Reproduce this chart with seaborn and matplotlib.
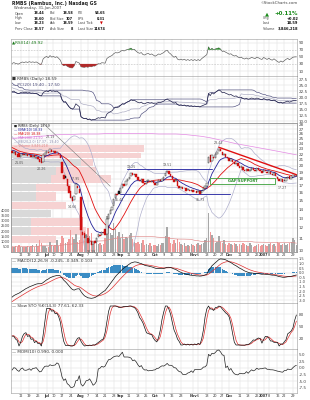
import numpy as np
import pandas as pd
import matplotlib
matplotlib.use("Agg")
import matplotlib.pyplot as plt
import seaborn as sns

# ---------------- data ----------------
title_text = "RMBS (Rambus, Inc.) Nasdaq GS"
date_text = "Wednesday, 31-Jan-2007"
hdr_col1 = ["Open", "High", "Low", "Prev Close"]
hdr_val1 = ["18.44", "18.60", "18.23", "18.57"]
hdr_col2 = ["Bid", "Bid Size", "Ask", "Ask Size"]
hdr_val2 = ["18.58", "107", "18.59", "8"]
hdr_col3 = ["P/E", "EPS", "Last Tick", "Last Size"]
hdr_val3 = ["54.65", "0.31", "", "11674"]
hdr_right_lbl = ["", "Chg", "Last", "Volume"]
hdr_right_val = ["+0.11%", "+0.02", "18.59", "3,846,218"]

holidays = ["2006-07-04", "2006-09-04", "2006-11-23", "2006-12-25",
            "2007-01-01", "2007-01-02", "2007-01-15"]

# closes before the visible window (only feed the indicators)
lead_close = [38.5, 39.2, 40.1, 39.6, 40.8, 41.5, 40.9, 41.8, 42.3, 41.6, 40.7, 39.8,
              36.2, 31.5, 28.4, 27.1, 26.3,
              25.6, 25.9, 25.2, 24.6, 24.9, 24.1, 23.5, 23.9, 23.2, 22.6,
              23.0, 22.4, 22.0, 22.5, 22.8, 22.3, 22.1, 22.6, 22.9, 22.4]

open_jun = [22.6, 22.3, 22.4, 22.0, 22.2, 21.6, 21.8, 22.1, 21.9, 22.0,
            21.8, 21.9, 21.5, 21.8, 21.4, 21.6, 21.1, 21.3, 20.7, 21.9]
close_jun = [22.2, 22.5, 21.9, 21.6, 21.5, 21.9, 22.1, 21.8, 22.0, 21.7,
             21.9, 21.6, 21.7, 21.5, 21.6, 21.2, 20.6, 20.5, 21.8, 22.3]
open_jul = [22.3, 22.5, 22.4, 22.7, 22.5, 22.6, 22.4, 22.3, 21.9, 20.6,
            18.6, 18.4, 18.0, 16.9, 16.2, 15.5, 15.1, 15.8, 17.0, 16.5]
close_jul = [22.6, 22.2, 22.9, 22.4, 22.6, 22.3, 22.5, 22.0, 21.3, 18.9,
             17.9, 18.1, 17.0, 16.0, 15.3, 15.0, 15.6, 17.2, 16.6, 16.0]
open_aug = [15.5, 11.6, 11.5, 11.1, 11.0, 10.7, 10.8, 10.5, 10.8, 10.7, 11.1, 11.3,
            11.3, 11.6, 11.9, 11.4, 12.9, 13.4, 13.9, 14.4, 15.3, 15.9, 16.3]
close_aug = [11.8, 11.3, 11.0, 11.2, 10.6, 10.9, 10.4, 10.7, 10.6, 11.0, 11.4, 11.2,
             11.6, 11.5, 11.3, 12.9, 13.5, 13.9, 14.3, 15.2, 15.8, 15.7, 15.9]
open_sep = [16.0, 16.7, 17.2, 17.1, 17.6, 18.0, 18.4, 18.8, 18.6, 18.7,
            18.2, 17.8, 17.5, 17.9, 17.4, 17.2, 17.6, 17.7, 17.5, 17.7]
close_sep = [16.6, 17.2, 17.0, 17.6, 18.0, 18.3, 18.9, 18.5, 18.7, 18.2,
             17.8, 17.6, 17.9, 17.3, 17.2, 17.6, 17.8, 17.5, 17.7, 17.4]
open_oct = [17.3, 17.1, 17.5, 17.8, 17.7, 18.0, 18.4, 19.0, 19.1, 18.7, 18.4,
            17.8, 17.6, 17.7, 16.9, 16.6, 16.8, 16.6, 16.6, 16.4, 16.4, 16.3]
close_oct = [17.1, 17.4, 17.8, 17.7, 18.0, 18.3, 18.9, 19.2, 18.7, 18.4, 17.9,
             17.5, 17.8, 16.9, 16.6, 16.8, 16.5, 16.7, 16.3, 16.5, 16.2, 16.4]
open_nov = [16.4, 16.2, 16.2, 16.1, 16.2, 16.0, 16.3, 16.6, 17.0, 20.4, 21.9,
            20.8, 21.6, 21.4, 22.1, 22.6, 22.9, 22.5, 21.8, 22.0, 21.6]
close_nov = [16.1, 16.3, 16.0, 16.2, 15.9, 16.3, 16.6, 16.9, 17.3, 21.5, 20.6,
             21.8, 21.3, 22.0, 22.5, 23.0, 22.6, 21.8, 22.0, 21.6, 21.3]
open_dec = [21.3, 20.9, 21.0, 20.6, 20.3, 20.4, 20.0, 19.7, 19.8, 19.4,
            19.2, 19.5, 19.1, 19.3, 19.6, 19.4, 19.2, 19.6, 19.3, 19.1]
close_dec = [20.9, 21.1, 20.6, 20.3, 20.5, 20.0, 19.7, 19.9, 19.4, 19.2,
             19.5, 19.1, 19.3, 19.6, 19.4, 19.2, 19.6, 19.4, 19.1, 18.9]
open_jan = [19.0, 19.3, 19.0, 18.9, 19.0, 18.7, 18.5, 18.8, 18.3, 17.9,
            17.6, 17.9, 17.6, 17.7, 18.1, 18.4, 17.9, 18.2, 18.6, 18.44]
close_jan = [19.4, 19.1, 18.8, 19.1, 18.7, 18.5, 18.8, 18.4, 17.9, 17.6,
             17.9, 17.5, 17.8, 18.1, 18.3, 17.9, 18.2, 18.5, 18.57, 18.59]

vol_jun = [520, 450, 600, 480, 700, 430, 500, 450, 520, 610,
           480, 550, 650, 500, 720, 560, 1150, 900, 600, 560]
vol_jul = [350, 520, 1000, 640, 560, 700, 1100, 600, 900, 1500,
           1300, 900, 1000, 1200, 2100, 1400, 1200, 1700, 1000, 1100]
vol_aug = [3600, 3300, 2000, 1700, 2300, 1500, 1800, 1000, 900, 1100, 800, 900,
           700, 800, 1300, 3400, 2600, 1800, 1600, 2800, 2200, 1500, 1900]
vol_sep = [1300, 1700, 1200, 1400, 1300, 1600, 1800, 1200, 1000, 900,
           1000, 800, 900, 1100, 700, 800, 700, 900, 600, 700]
vol_oct = [700, 600, 800, 700, 900, 900, 1500, 2400, 1400, 900, 800,
           1100, 900, 1200, 1000, 800, 700, 900, 600, 700, 600, 800]
vol_nov = [700, 600, 800, 900, 700, 800, 900, 1100, 1300, 3700, 1900,
           1600, 1300, 900, 1000, 1500, 1000, 900, 1100, 800, 700]
vol_dec = [900, 800, 700, 900, 800, 600, 800, 700, 900, 800,
           700, 600, 900, 700, 500, 600, 700, 800, 600, 700]
vol_jan = [800, 700, 600, 800, 900, 700, 800, 600, 1000, 900,
           700, 800, 900, 700, 800, 900, 1000, 1300, 1100, 700]

# 200-day moving average, read every 5th session
ma200_vals = [25.1, 25.2, 25.3, 25.5, 25.6, 25.8, 25.9, 25.9, 26.0, 26.0, 26.0, 26.1,
              26.1, 26.1, 26.1, 26.1, 26.1, 26.0, 26.0, 26.0, 25.9, 25.7, 25.5, 25.2,
              24.8, 24.4, 24.0, 23.7, 23.4, 23.1, 22.8, 22.5, 22.2, 21.9]

# volume by price
vbp_lo = [22.4, 21.3, 20.0, 18.6, 17.4, 16.3, 15.0, 14.0, 13.1, 12.2, 11.3, 10.6]
vbp_hi = [24.0, 22.4, 21.3, 20.0, 18.6, 17.4, 16.3, 15.0, 14.0, 13.1, 12.2, 11.3]
vbp_up = [0, 30, 70, 45, 40, 25, 25, 0, 40, 20, 20, 0]
vbp_dn = [133, 100, 12, 40, 60, 35, 20, 55, 0, 50, 55, 45]

tick_dates = ["2006-06-12", "2006-06-19", "2006-06-26", "2006-07-03", "2006-07-10",
              "2006-07-17", "2006-07-24", "2006-08-01", "2006-08-07", "2006-08-14",
              "2006-08-21", "2006-08-28", "2006-09-01", "2006-09-11", "2006-09-18",
              "2006-09-25", "2006-10-02", "2006-10-09", "2006-10-16", "2006-10-23",
              "2006-11-01", "2006-11-06", "2006-11-13", "2006-11-20", "2006-11-27",
              "2006-12-01", "2006-12-11", "2006-12-18", "2006-12-26", "2007-01-03",
              "2007-01-08", "2007-01-16", "2007-01-22", "2007-01-29"]
tick_labels = ["12", "19", "26", "Jul", "10", "17", "24", "Aug", "7", "14", "21", "28",
               "Sep", "11", "18", "25", "Oct", "9", "16", "23", "Nov", "6", "13", "20",
               "27", "Dec", "11", "18", "26", "2007", "8", "16", "22", "29"]

price_ticks = [10, 11, 12, 13, 14, 15, 16, 17, 18, 19, 20, 21, 22, 23, 24, 25, 26, 27, 28]
vol_ticks = [500, 1000, 1500, 2000, 2500, 3000, 3500, 4000]

# annotations: (session, price, text, above?)
notes = [(22, 24.2, "23.19", True), (4, 21.5, "21.05", False), (17, 20.5, "20.26", False),
         (37, 17.2, "17.95", True), (35, 15.0, "14.66", False), (46, 10.4, "10.19", False),
         (69, 18.9, "19.25", True), (62, 15.9, "15.43", False), (90, 19.2, "19.51", True),
         (109, 15.9, "15.73", False), (120, 23.0, "23.42", True), (157, 17.5, "17.27", False)]

# ---------------- computations ----------------
sns.set_theme(style="white")
plt.rcParams['font.family'] = ['DejaVu Sans']

dates = pd.bdate_range("2006-06-05", "2007-01-31")
dates = dates[~dates.isin(pd.to_datetime(holidays))]
opens = np.array(open_jun + open_jul + open_aug + open_sep + open_oct + open_nov + open_dec + open_jan)
closes = np.array(close_jun + close_jul + close_aug + close_sep + close_oct + close_nov + close_dec + close_jan)
vols = np.array(vol_jun + vol_jul + vol_aug + vol_sep + vol_oct + vol_nov + vol_dec + vol_jan)
n = len(closes)
idx = np.arange(n)
tick_pos = [dates.get_loc(pd.Timestamp(d)) for d in tick_dates]

L = len(lead_close)
full = pd.Series(lead_close + list(closes))
hi_full = pd.Series(lead_close + list(np.maximum(opens, closes)))
lo_full = pd.Series(lead_close + list(np.minimum(opens, closes)))
ema = lambda s, span: s.ewm(span=span, adjust=False).mean()
ema10 = ema(full, 10).values[L:]
ma20 = full.rolling(20).mean().values[L:]
sd20 = full.rolling(20).std(ddof=0).values[L:]
bb_up, bb_lo = ma20 + 2 * sd20, ma20 - 2 * sd20
macd_s = ema(full, 12) - ema(full, 26)
sig_s = ema(macd_s, 9)
macd, sig = macd_s.values[L:], sig_s.values[L:]
hist = macd - sig
d = full.diff()
up = d.clip(lower=0).ewm(alpha=1 / 14, adjust=False).mean()
dn = (-d.clip(upper=0)).ewm(alpha=1 / 14, adjust=False).mean()
rsi = (100 - 100 / (1 + up / dn)).values[L:]
ll, hh = lo_full.rolling(14).min(), hi_full.rolling(14).max()
fastk = 100 * (full - ll) / (hh - ll)
slowk_s = fastk.rolling(3).mean()
slowk, slowd = slowk_s.values[L:], slowk_s.rolling(3).mean().values[L:]
mom = (full - full.shift(10)).values[L:]
ch_hi = hi_full.rolling(20).max().values[L:]
ch_lo = lo_full.rolling(20).min().values[L:]
ch_mid = (ch_hi + ch_lo) / 2
vol_ma = pd.Series(vols).rolling(50, min_periods=1).mean().values
ma200_x = np.arange(0, n, 5)[:len(ma200_vals)]

# ---------------- layout ----------------
W, H = 310, 400
fig = plt.figure(figsize=(W / 100, H / 100), dpi=100)
fig.patch.set_facecolor("white")
X0, X1 = 11, 297
XL = (-0.64, 165.36)
FS = 3.0
GRID = "#dedede"
EDGE = "#9a9a9a"


def px(x, y):
    return x / W, 1 - y / H


def panel(top, bot, zorder=1, transparent=False):
    ax = fig.add_axes([X0 / W, 1 - bot / H, (X1 - X0) / W, (bot - top) / H], zorder=zorder)
    ax.set_xlim(*XL)
    if transparent:
        ax.patch.set_alpha(0)
    for s in ax.spines.values():
        s.set_color(EDGE)
        s.set_linewidth(0.4)
    ax.tick_params(length=0, labelsize=FS, colors="#444444", pad=1)
    ax.set_xticks(tick_pos)
    ax.set_xticklabels([])
    ax.set_xlabel("")
    ax.set_ylabel("")
    return ax


def right_ticks(ax, ticks, fmt):
    ax.yaxis.tick_right()
    ax.set_yticks(ticks)
    ax.set_yticklabels([fmt.format(t) for t in ticks])


def vgrid(ax):
    for t in tick_pos:
        ax.axvline(t, color=GRID, lw=0.35, zorder=0)


def hgrid(ax, ticks):
    for t in ticks:
        ax.axhline(t, color=GRID, lw=0.35, zorder=0)


def line(ax, x, y, color, lw=0.5, z=3):
    sns.lineplot(x=x, y=y, ax=ax, color=color, linewidth=lw, legend=False,
                 errorbar=None, sort=False, zorder=z)
    ax.set_xlabel("")
    ax.set_ylabel("")


def date_labels(ax):
    ax.set_xticklabels(tick_labels)
    for lab, txt in zip(ax.get_xticklabels(), tick_labels):
        lab.set_fontsize(2.5)
        lab.set_color("#333333")
        if not txt.isdigit() or txt == "2007":
            lab.set_fontweight("bold")


# ---------------- header ----------------
HF = 2.4
fig.text(*px(12, 3.5), title_text, fontsize=3.3, fontweight="bold", color="#222222", va="center")
fig.text(*px(298, 3.5), "\u00a9StockCharts.com", fontsize=2.8, color="#444444", va="center", ha="right")
fig.text(*px(14, 8.5), date_text, fontsize=2.7, color="#444444", va="center")
for r in range(4):
    y = 13.5 + 5 * r
    fig.text(*px(15, y), hdr_col1[r], fontsize=HF, color="#444444", va="center")
    fig.text(*px(44, y), hdr_val1[r], fontsize=HF, color="#111111", va="center", ha="right", fontweight="bold")
    fig.text(*px(50, y), hdr_col2[r], fontsize=HF, color="#444444", va="center")
    fig.text(*px(73, y), hdr_val2[r], fontsize=HF, color="#111111", va="center", ha="right", fontweight="bold")
    fig.text(*px(78, y), hdr_col3[r], fontsize=HF, color="#444444", va="center")
    fig.text(*px(105, y), hdr_val3[r], fontsize=HF, color="#111111", va="center", ha="right", fontweight="bold")
    if r > 0:
        fig.text(*px(263, y), hdr_right_lbl[r], fontsize=HF, color="#444444", va="center")
        fig.text(*px(298, y), hdr_right_val[r], fontsize=HF + 0.2, color="#111111", va="center", ha="right", fontweight="bold")
fig.text(*px(103, 23.5), "\u25bc", fontsize=2.6, color="#cc0000", va="center", ha="right")
fig.text(*px(265, 13.5), "\u25b2", fontsize=3.8, color="#1a8a1a", va="center")
fig.text(*px(298, 13.5), hdr_right_val[0], fontsize=4.0, color="#1a8a1a", va="center", ha="right", fontweight="bold")

# ---------------- RSI ----------------
ax_rsi = panel(39, 76)
ax_rsi.set_ylim(-4, 100)
vgrid(ax_rsi)
hgrid(ax_rsi, [90, 10])
ax_rsi.axhline(70, color="#bbbbbb", lw=0.4, ls=(0, (3, 2)))
ax_rsi.axhline(30, color="#bbbbbb", lw=0.4, ls=(0, (3, 2)))
ax_rsi.axhline(50, color="#cccccc", lw=0.35)
line(ax_rsi, idx, rsi, "#555555", 0.45)
ax_rsi.fill_between(idx, rsi, 70, where=rsi > 70, color="#2a8a2a", interpolate=True, lw=0, zorder=4)
ax_rsi.fill_between(idx, rsi, 30, where=rsi < 30, color="#b02a2a", interpolate=True, lw=0, zorder=4)
right_ticks(ax_rsi, [90, 70, 50, 30, 10], "{:.0f}")
ax_rsi.set_xlim(*XL)
ax_rsi.text(0.005, 0.97, "\u25b2RSI(14) %.2f" % rsi[-1], transform=ax_rsi.transAxes,
            fontsize=FS, color="#1a7a1a", va="top")

# ---------------- price channel panel ----------------
ax_pc = panel(76, 123)
ax_pc.set_ylim(9.2, 28.8)
vgrid(ax_pc)
pc_ticks = [10.0, 12.5, 15.0, 17.5, 20.0, 22.5, 25.0, 27.5]
hgrid(ax_pc, pc_ticks)
line(ax_pc, idx, ch_hi, "#4a4a7a", 0.45)
line(ax_pc, idx, ch_lo, "#4a4a7a", 0.45)
line(ax_pc, idx, ch_mid, "#a8a8c0", 0.45)
line(ax_pc, idx, closes, "#20204a", 0.5)
right_ticks(ax_pc, pc_ticks, "{:.1f}")
ax_pc.set_xlim(*XL)
ax_pc.text(0.005, 0.97, "\u25a0 RMBS (Daily) 18.59", transform=ax_pc.transAxes, fontsize=FS, color="#333333", va="top")
ax_pc.text(0.005, 0.86, "\u2014 PC(20) %.2f - %.2f" % (ch_hi[-1], ch_lo[-1]), transform=ax_pc.transAxes,
           fontsize=FS, color="#4a4a7a", va="top")

# ---------------- price panel ----------------
PT, PB = 123, 252
ax_bg = panel(PT, PB, zorder=1)
ax_bg.set_yscale("log")
ax_bg.set_ylim(9.84, 28.46)
vgrid(ax_bg)
hgrid(ax_bg, price_ticks)
ax_bg.minorticks_off()
ax_bg.set_yticks([])
ax_bg.set_yticks([], minor=True)
unit = 1 / 1.723
for lo, hi, u, dwn in zip(vbp_lo, vbp_hi, vbp_up, vbp_dn):
    hgt = (hi - lo) * 0.9
    ax_bg.barh(lo, u * unit, height=hgt, left=XL[0], align="edge", color="#d9d9d9", lw=0, zorder=1)
    ax_bg.barh(lo, dwn * unit, height=hgt, left=XL[0] + u * unit, align="edge", color="#f6d2d2", lw=0, zorder=1)
ax_bg.set_xlim(*XL)

ax_vol = panel(PT, PB, zorder=2, transparent=True)
prev = np.concatenate([[lead_close[-1]], closes[:-1]])
down = closes < prev
ax_vol.bar(idx, vols, width=0.8, color=np.where(down, "#f09a9a", "#a8a8a8"), lw=0, zorder=2)
line(ax_vol, idx, vol_ma, "#e08a8a", 0.45)
ax_vol.set_ylim(0, 12290)
ax_vol.yaxis.tick_left()
ax_vol.set_yticks(vol_ticks)
ax_vol.set_yticklabels([str(v) for v in vol_ticks])
ax_vol.tick_params(axis="y", labelsize=2.6, pad=0.5)
ax_vol.set_xlim(*XL)

ax_p = panel(PT, PB, zorder=3, transparent=True)
ax_p.set_yscale("log")
body_lo = np.minimum(opens, closes)
body_h = np.maximum(np.abs(closes - opens), 0.04)
col = np.where(down, "#d01010", "#111111")
filled = closes < opens
for i in idx:
    ax_p.bar(i, body_h[i], bottom=body_lo[i], width=0.85,
             color=col[i] if filled[i] else "white", edgecolor=col[i], lw=0.3, zorder=5)
line(ax_p, idx, bb_up, "#a9a9c9", 0.45, 3)
line(ax_p, idx, bb_lo, "#a9a9c9", 0.45, 3)
line(ax_p, ma200_x, ma200_vals, "#e48ae4", 0.5, 3)
line(ax_p, idx, ma20, "#e01010", 0.6, 4)
line(ax_p, idx, ema10, "#22229a", 0.6, 4)
# annotation lines
ax_p.plot([18, 57], [28.4, 16.9], color="#777777", lw=0.4, zorder=4)
ax_p.plot([66.5, 116], [19.5, 19.5], color="#3a3aaa", lw=0.7, zorder=4)
ax_p.plot([62.5, 126.5], [15.9, 15.9], color="#3a3aaa", lw=0.7, zorder=4)
ax_p.plot([120, 165], [23.3, 18.6], color="#e01010", lw=1.0, zorder=6)
ax_p.add_patch(plt.Rectangle((115, 17.2), 37.5, 0.9, fill=False, edgecolor="#3aa03a", lw=0.6, zorder=6))
ax_p.text(133.7, 17.65, "GAP SUPPORT", color="#2a902a", fontsize=2.7, ha="center", va="center",
          fontweight="bold", zorder=7)
for i, p, t, above in notes:
    ax_p.text(i, p * (1.03 if above else 0.965), t, fontsize=2.3, color="#555555",
              ha="center", va="bottom" if above else "top", zorder=7)
ax_p.set_ylim(9.84, 28.46)
ax_p.set_xlim(*XL)
ax_p.minorticks_off()
right_ticks(ax_p, price_ticks, "{:.0f}")
ax_p.set_yticks([], minor=True)
date_labels(ax_p)
legend_rows = [("\u25a0 RMBS (Daily) 18.59", "#222222"),
               ("\u2014 EMA(10) %.2f" % ema10[-1], "#22229a"),
               ("\u2014 MA(20) %.2f" % ma20[-1], "#e01010"),
               ("\u2014 MA(200) %.2f" % ma200_vals[-1], "#d070d0"),
               ("\u2014 BB(20,2.0) %.2f - %.2f" % (bb_lo[-1], bb_up[-1]), "#8888aa"),
               ("\u2014 Volume 3,846,218", "#e08a8a")]
for k, (t, c) in enumerate(legend_rows):
    ax_p.text(0.01, 0.99 - k * 0.031, t, transform=ax_p.transAxes, fontsize=2.3, color=c, va="top", zorder=8)

# ---------------- MACD ----------------
ax_m = panel(258, 303)
ax_m.set_ylim(-3.3, 1.6)
m_ticks = [1.5, 1.0, 0.5, 0.0, -0.5, -1.0, -1.5, -2.0, -2.5, -3.0]
vgrid(ax_m)
hgrid(ax_m, m_ticks)
ax_m.bar(idx, hist, width=0.9, color="#3a8cc4", lw=0, zorder=2)
line(ax_m, idx, sig, "#e03030", 0.5)
line(ax_m, idx, macd, "#111111", 0.5)
right_ticks(ax_m, m_ticks, "{:.1f}")
ax_m.tick_params(axis="y", labelsize=2.6)
ax_m.set_xlim(*XL)
ax_m.text(0.005, 0.97, "\u2014 MACD(12,26,9) %.3f, %.3f, %.3f" % (macd[-1], sig[-1], hist[-1]),
          transform=ax_m.transAxes, fontsize=FS, color="#333333", va="top")

# ---------------- Slow stochastic ----------------
ax_s = panel(303, 349)
ax_s.set_ylim(-7.5, 107.5)
vgrid(ax_s)
hgrid(ax_s, [80, 50, 20])
line(ax_s, idx, slowd, "#e03030", 0.5)
line(ax_s, idx, slowk, "#111111", 0.5)
right_ticks(ax_s, [80, 50, 20], "{:.0f}")
ax_s.set_xlim(*XL)
ax_s.text(0.005, 0.97, "\u2014 Slow STO %%K(14,3) %.2f, %.2f" % (slowk[-1], slowd[-1]),
          transform=ax_s.transAxes, fontsize=FS, color="#333333", va="top")

# ---------------- Momentum ----------------
ax_o = panel(349, 393)
ax_o.set_ylim(-9.4, 7.1)
o_ticks = [5.0, 2.5, 0.0, -2.5, -5.0, -7.5]
vgrid(ax_o)
hgrid(ax_o, o_ticks)
line(ax_o, idx, mom, "#222222", 0.5)
right_ticks(ax_o, o_ticks, "{:.1f}")
ax_o.set_xlim(*XL)
date_labels(ax_o)
ax_o.text(0.005, 0.97, "\u2014 MOM(10) %.3f, 0.000" % mom[-1],
          transform=ax_o.transAxes, fontsize=FS, color="#333333", va="top")

fig.savefig("out.png", dpi=100, facecolor="white")
